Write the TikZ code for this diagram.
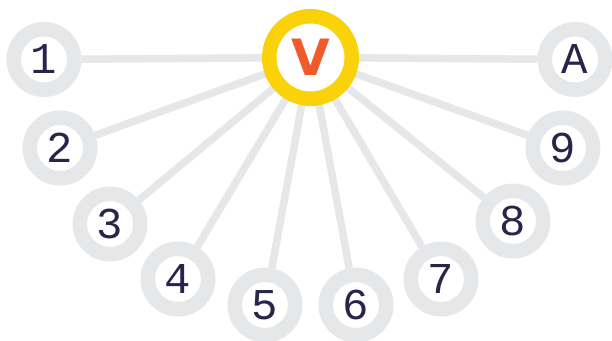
\documentclass[tikz,border=0pt]{standalone}
\usepackage{fontspec}
\newfontfamily\digitfont{Liberation Mono}
\newfontfamily\vfont{DejaVu Sans}
\definecolor{ringgray}{HTML}{E6E7E9}
\definecolor{gold}{HTML}{FAD20A}
\definecolor{vorange}{HTML}{F15A2B}
\definecolor{navy}{HTML}{27254A}
\begin{document}
\begin{tikzpicture}[x=1pt,y=-1pt,
  leaf/.style={circle,draw=ringgray,line width=14.5pt,fill=white,minimum size=60.5pt,inner sep=0pt,
    font=\digitfont\fontsize{44}{44}\selectfont,text=navy},
  hub/.style={circle,draw=gold,line width=14.5pt,fill=white,minimum size=82.5pt,inner sep=0pt,
    font=\vfont\bfseries\fontsize{50}{50}\selectfont,text=vorange},
  spoke/.style={draw=ringgray,line width=7.5pt}]
\useasboundingbox (0,0) rectangle (612,340);
\coordinate (hc) at (310.5,57.5);
\node[leaf] (n1) at (44,59.5) {1};
\node[leaf] (n2) at (60,148) {2};
\node[leaf] (n3) at (110,224) {3};
\node[leaf] (n4) at (178,279) {4};
\node[leaf] (n5) at (265,305) {5};
\node[leaf] (n6) at (356,305) {6};
\node[leaf] (n7) at (441,279) {7};
\node[leaf] (n8) at (513,221) {8};
\node[leaf] (n9) at (563,148) {9};
\node[leaf] (nA) at (575,59.5) {A};
\foreach \n in {n1,n2,n3,n4,n5,n6,n7,n8,n9,nA}{
  \draw[spoke] (hc) -- (\n);
}
\node[hub] (v) at (hc) {V};
\end{tikzpicture}
\end{document}
